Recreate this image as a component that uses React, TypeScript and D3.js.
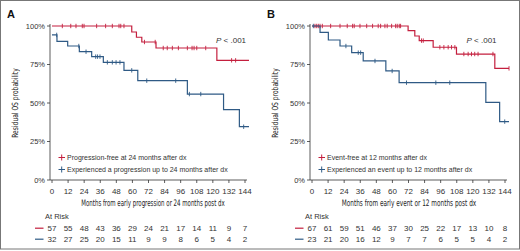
import React, { useLayoutEffect, useRef, useState } from "react";
import * as d3 from "d3";

const xTicks = [0, 12, 24, 36, 48, 60, 72, 84, 96, 108, 120, 132, 144];
const yTicks = [0, 25, 50, 75, 100];

// Panel A
const aRedSteps: [number, number][] = [[0, 100], [59.5, 96.1], [63, 92.7], [67, 89.6], [77.6, 85.7], [123, 77.7], [147, 77.7]];
const aRedCens = [7.7, 14, 17.9, 22.6, 23.9, 33.3, 40, 45, 50, 51.3, 53.7, 69, 77, 83, 86, 89.8, 94.3, 101, 104.5, 106, 108, 114.7, 134, 137];
const aBlueSteps: [number, number][] = [[0, 94.2], [3.7, 90], [11.7, 87], [20.4, 83.3], [29.6, 80.1], [38.3, 76.4], [53.7, 71.2], [64, 64.5], [101, 55.8], [128, 45.7], [139.8, 34.6], [147, 34.6]];
const aBlueCens = [3.5, 20, 25.4, 32.6, 34, 35.8, 41.3, 45, 47.8, 50.7, 59.5, 70.7, 92.3, 102.5, 111, 143];
const aRiskRed = [57, 55, 48, 43, 36, 29, 24, 21, 17, 14, 11, 9, 7];
const aRiskBlue = [32, 27, 25, 20, 15, 11, 9, 9, 8, 6, 5, 4, 2];

// Panel B
const bRedSteps: [number, number][] = [[0, 100], [71.7, 97], [76.7, 93.5], [80, 90.5], [90.4, 86.2], [107.8, 81.8], [136.4, 72.5], [147, 72.5]];
const bRedCens = [2.2, 3.5, 4.7, 6, 7.7, 13.9, 20.9, 26.3, 30.3, 31.5, 35.8, 40.8, 45.2, 49.4, 51.2, 54.4, 56.1, 59.4, 62.4, 63.6, 65.1, 66.1, 81.7, 83, 95.4, 98.4, 101.6, 104.1, 106.6, 113.3, 116.5, 119, 121.4, 123.9, 135, 147];
const bBlueSteps: [number, number][] = [[0, 100], [6, 95.9], [12.2, 90.9], [20.9, 87], [29.6, 82.7], [38.2, 77.3], [55.1, 70.8], [65, 63.2], [129.7, 50.4], [140, 37.9], [147, 37.9]];
const bBlueCens = [1, 25.3, 34.5, 36.3, 47, 59.8, 70.5, 92.4, 102.8, 143.8];
const bRiskRed = [67, 61, 59, 51, 46, 37, 30, 25, 22, 17, 13, 10, 8];
const bRiskBlue = [23, 21, 20, 16, 12, 9, 7, 7, 6, 5, 5, 4, 2];

const RED = "#c41f3e";
const BLUE = "#2f5a85";
const NARROW = "'Liberation Sans Narrow', 'DejaVu Sans Condensed', 'Liberation Sans', Arial, sans-serif";
const SANS = "'Liberation Sans', Arial, Helvetica, sans-serif";

function stepValue(steps: [number, number][], t: number) {
  let v = steps[0][1];
  for (const [s, p] of steps) if (s <= t) v = p;
  return v;
}

function FitText(props: { cx: number; cy: number; width: number; rotate?: number; size: number; children: string }) {
  const ref = useRef<SVGTextElement>(null);
  const [sx, setSx] = useState(1);
  useLayoutEffect(() => {
    if (ref.current) {
      const w = ref.current.getBBox().width;
      if (w > 0) setSx(props.width / w);
    }
  }, [props.width, props.children]);
  return (
    <g transform={`translate(${props.cx},${props.cy}) rotate(${props.rotate || 0}) scale(${sx},1)`}>
      <text ref={ref} x={0} y={0} textAnchor="middle" fontFamily={NARROW} fontSize={props.size} fill="#222">
        {props.children}
      </text>
    </g>
  );
}

interface PanelProps {
  ox: number;
  label: string;
  redSteps: [number, number][];
  redCens: number[];
  blueSteps: [number, number][];
  blueCens: number[];
  riskRed: number[];
  riskBlue: number[];
  legendRed: string;
  legendBlue: string;
  xTitle: string;
  xTitleCenter: number;
  xTitleLen: number;
  pX: number;
}

function Panel(p: PanelProps) {
  const x = d3.scaleLinear().domain([0, 144]).range([p.ox + 52, p.ox + 245]);
  const y = d3.scaleLinear().domain([0, 100]).range([180, 26]);
  const line = d3
    .line<[number, number]>()
    .x((d) => x(d[0]))
    .y((d) => y(d[1]))
    .curve(d3.curveStepAfter);
  const axisX = p.ox + 50;
  const curves = [
    { steps: p.redSteps, cens: p.redCens, color: RED },
    { steps: p.blueSteps, cens: p.blueCens, color: BLUE },
  ];
  return (
    <g>
      <text x={p.ox + 7} y={18} fontFamily={SANS} fontWeight="bold" fontSize={11} fill="#111">
        {p.label}
      </text>
      {/* y axis */}
      <line x1={axisX} x2={axisX} y1={y(100) - 2} y2={y(0)} stroke="#333" strokeWidth={0.8} />
      {yTicks.map((t) => (
        <g key={t}>
          <line x1={axisX - 3} x2={axisX} y1={y(t)} y2={y(t)} stroke="#333" strokeWidth={0.8} />
          <text x={axisX - 5} y={y(t) + 2.6} textAnchor="end" fontFamily={SANS} fontSize={7.5} fill="#333">
            {t}%
          </text>
        </g>
      ))}
      <FitText cx={p.ox + 17.5} cy={(y(0) + y(100)) / 2} width={70} rotate={-90} size={8.5}>
        Residual OS probability
      </FitText>
      {/* x axis */}
      <line x1={axisX} x2={x(144) + 2} y1={y(0)} y2={y(0)} stroke="#333" strokeWidth={0.8} />
      {xTicks.map((t) => (
        <g key={t}>
          <line x1={x(t)} x2={x(t)} y1={y(0)} y2={y(0) + 3} stroke="#333" strokeWidth={0.8} />
          <text x={x(t)} y={194} textAnchor="middle" fontFamily={SANS} fontSize={8} fill="#333">
            {t}
          </text>
        </g>
      ))}
      <FitText cx={p.xTitleCenter} cy={206} width={p.xTitleLen} size={9}>
        {p.xTitle}
      </FitText>
      {/* curves */}
      {curves.map((c, i) => (
        <g key={i}>
          <path d={line(c.steps) || ""} fill="none" stroke={c.color} strokeWidth={1.2} />
          {c.cens.map((t, j) => (
            <line
              key={j}
              x1={x(t)}
              x2={x(t)}
              y1={y(stepValue(c.steps, t)) - 2.2}
              y2={y(stepValue(c.steps, t)) + 2.2}
              stroke={c.color}
              strokeWidth={0.9}
            />
          ))}
        </g>
      ))}
      <text x={p.pX} y={43} fontFamily={SANS} fontSize={8} fill="#333">
        <tspan fontStyle="italic">P</tspan> &lt; .001
      </text>
      {/* legend */}
      {[
        { t: p.legendRed, c: RED, yy: 157.5 },
        { t: p.legendBlue, c: BLUE, yy: 169.5 },
      ].map((l, i) => (
        <g key={i}>
          <line x1={p.ox + 58.5} x2={p.ox + 65} y1={l.yy} y2={l.yy} stroke={l.c} strokeWidth={1} />
          <line x1={p.ox + 61.7} x2={p.ox + 61.7} y1={l.yy - 3} y2={l.yy + 3} stroke={l.c} strokeWidth={1} />
          <text x={p.ox + 67} y={l.yy + 2.5} fontFamily={SANS} fontSize={7} fill="#333">
            {l.t}
          </text>
        </g>
      ))}
      {/* risk table */}
      <text x={p.ox + 45} y={219} fontFamily={SANS} fontSize={7.5} fill="#333">
        At Risk
      </text>
      {[
        { vals: p.riskRed, c: RED, yy: 231 },
        { vals: p.riskBlue, c: BLUE, yy: 242 },
      ].map((r, i) => (
        <g key={i}>
          <line x1={p.ox + 35} x2={p.ox + 43.5} y1={r.yy - 2.8} y2={r.yy - 2.8} stroke={r.c} strokeWidth={1.2} />
          {r.vals.map((v, j) => (
            <text key={j} x={x(xTicks[j])} y={r.yy} textAnchor="middle" fontFamily={SANS} fontSize={8} fill="#333">
              {v}
            </text>
          ))}
        </g>
      ))}
    </g>
  );
}

export default function App() {
  return (
    <svg width={520} height={251} style={{ display: "block", position: "absolute", left: 0, top: 0 }}>
      <rect x={0} y={0} width={520} height={251} fill="#fff" />
      <rect x={0.5} y={0.5} width={519} height={248.5} fill="none" stroke="#777" strokeWidth={1} />
      <Panel
        ox={0}
        label="A"
        redSteps={aRedSteps}
        redCens={aRedCens}
        blueSteps={aBlueSteps}
        blueCens={aBlueCens}
        riskRed={aRiskRed}
        riskBlue={aRiskBlue}
        legendRed="Progression-free at 24 months after dx"
        legendBlue="Experienced a progression up to 24 months after dx"
        xTitle="Months from early progression or 24 months post dx"
        xTitleCenter={153}
        xTitleLen={144}
        pX={216}
      />
      <Panel
        ox={260}
        label="B"
        redSteps={bRedSteps}
        redCens={bRedCens}
        blueSteps={bBlueSteps}
        blueCens={bBlueCens}
        riskRed={bRiskRed}
        riskBlue={bRiskBlue}
        legendRed="Event-free at 12 months after dx"
        legendBlue="Experienced an event up to 12 months after dx"
        xTitle="Months from early event or 12 months post dx"
        xTitleCenter={409}
        xTitleLen={135}
        pX={466.5}
      />
    </svg>
  );
}
